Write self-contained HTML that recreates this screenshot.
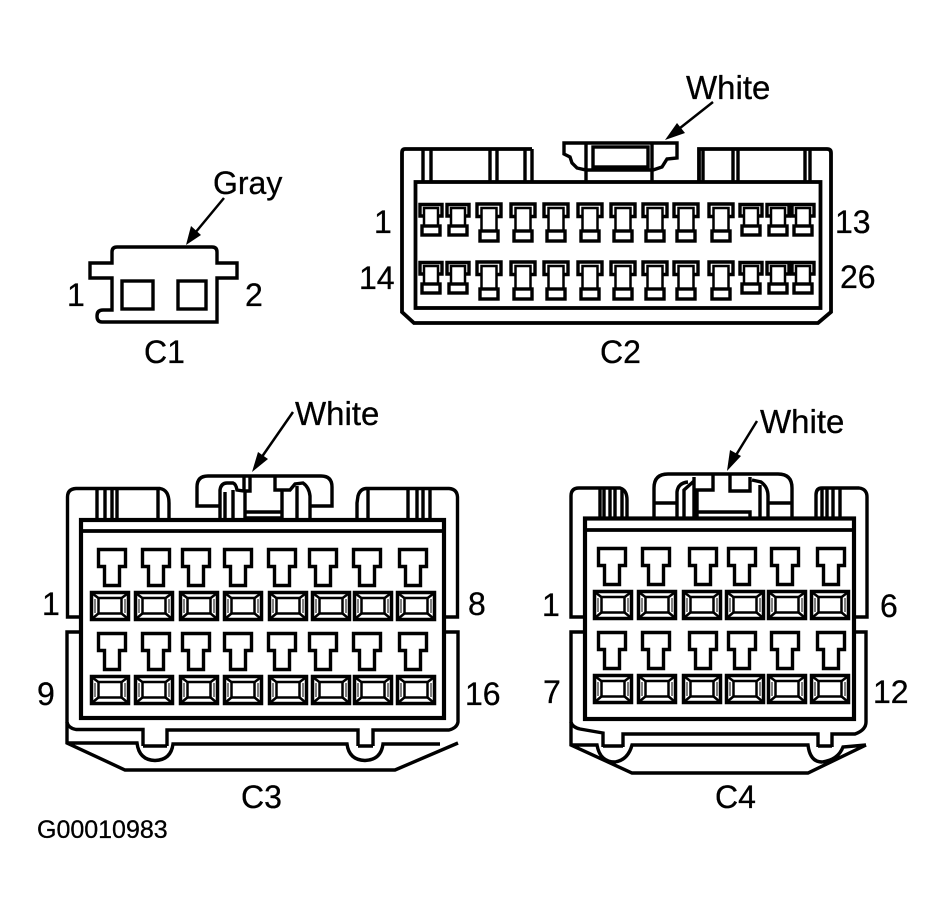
<!DOCTYPE html>
<html><head><meta charset="utf-8"><style>
html,body{margin:0;padding:0;background:#fff}
svg{display:block}
text{font-family:"Liberation Sans",Arial,sans-serif;font-size:32px;fill:#000;stroke:#000;stroke-width:.3}
.l{fill:none;stroke:#000;stroke-width:3.4;stroke-linejoin:miter}
.w{fill:#fff;stroke:#000;stroke-width:3.4}
.t{fill:none;stroke:#000;stroke-width:2.5}
</style></head><body>
<svg xmlns="http://www.w3.org/2000/svg" width="944" height="913" viewBox="0 0 944 913">
<defs>
<g id="s"><path class="l" d="M-6,216H-11V204.500H11V216H6"/><path class="t" d="M-7,226V208H7V226"/><rect class="w" x="-9" y="226" width="18" height="9"/></g>
<g id="b"><path class="l" d="M-7,216.500H-12V204H12V216.500H7"/><path class="t" d="M-7.500,231V208H7.500V231"/><rect class="w" x="-9" y="231" width="18" height="10"/></g>
<g id="T"><path class="w" d="M-13.500,0H13.500V17H7.500V36H-7.500V17H-13.500Z"/></g>
<g id="B"><rect x="1.500" y="1.500" width="37" height="27" fill="#fff" stroke="#000" stroke-width="3.500"/>
<path d="M3,3L9,7.500M37,3L31,7.500M3,27L9,22M37,27L31,22" stroke="#000" stroke-width="2.500"/>
<path d="M5,8V22M35,8V22" stroke="#000" stroke-width="1"/>
<rect x="8.500" y="7" width="23" height="15.500" fill="#fff" stroke="#000" stroke-width="2.500"/></g>
</defs>

<!-- C1 -->
<path class="l" d="M112,263V252Q112,247 117,247H212Q217,247 217,252V263H237V278H217V322H102Q97,322 97,316Q97,310 103,310H112V278H90V263Z"/>
<rect class="l" x="122" y="281" width="31" height="28"/>
<rect class="l" x="178" y="281" width="28" height="28"/>
<path d="M224,198L195,233" class="l" style="stroke-width:2.500"/><path d="M186,245L191,226L201,235Z"/>

<!-- C2 -->
<path class="l" d="M532,149H405Q402,149 402,153V312L414,323H818L831,312V153Q831,149 827,149H699V182" style="stroke-width:3.800"/>
<rect class="l" x="415.500" y="182" width="405" height="126" style="stroke-width:3.800"/>
<path class="l" d="M423,149V182M431,149V182M490,149V182M497,149V182M525,149V182M532,149V182M703,149V182M733,149V182M738,149V182M805,149V182M810,149V182"/>
<path class="l" d="M652,143H564V154L570,157L572,163L577,168L586,170H653L662,167L667,159L677,158V143H652M586,143V182M652,143V182"/>
<rect class="l" x="593" y="147" width="55" height="20"/>
<use href="#s" x="431"/><use href="#s" x="458"/><use href="#b" x="489"/><use href="#b" x="523"/><use href="#b" x="556"/><use href="#b" x="590"/><use href="#b" x="623"/><use href="#b" x="655"/><use href="#b" x="686"/><use href="#b" x="721"/><use href="#s" x="751"/><use href="#s" x="778"/><use href="#s" x="803"/>
<g transform="translate(0,58)"><use href="#s" x="431"/><use href="#s" x="458"/><use href="#b" x="489"/><use href="#b" x="523"/><use href="#b" x="556"/><use href="#b" x="590"/><use href="#b" x="623"/><use href="#b" x="655"/><use href="#b" x="686"/><use href="#b" x="721"/><use href="#s" x="751"/><use href="#s" x="778"/><use href="#s" x="803"/></g>
<path d="M713,102L675,132" class="l" style="stroke-width:2.500"/><path d="M665,140L677,123L685,133Z"/>

<!-- C3 -->
<path class="l" d="M80,617H67.500V497Q67.500,489 76,488.500H160Q169,490 169,503V520M357,520V503L358,496Q360,489 366,488.500H449Q457,489 457.500,497V617H444"/>
<path class="l" d="M80,632H67V722Q68,728 76,729.500H143V746M167,746V730H358V746M373,746V730H449Q457,728 458,722V632H444"/>
<path class="l" d="M67,722V743L125,770H395L458,743M67,743H137Q139,760 155,760.500Q171,760 173,744H347Q349,760 365,760.500Q381,760 383,744H440M143,746H167M358,746H373"/>
<path class="l" d="M97,488V520M105,488V520M112,488V520M117,488V520M158,488V520M368,488V520M408,488V520M417,488V520M423,488V520M430,488V520"/>
<rect class="l" x="81" y="520" width="363" height="198" style="stroke-width:4.200"/>
<path class="l" d="M81,531H444" style="stroke-width:3.800"/>
<path class="l" d="M220,506H197V487Q197,476 208,476H321Q332,476 332,487V506H310M220,520V490Q221,483 227,483H233Q236,484 237,490L244,491V476M250,476V491H245V518M245,512H282V490H290L295,484L303,483Q309,487 310,496V520M275,476V490H282M225,492V520M233,490V520M297,486V520M282,512V520M245,518H282" />
<path d="M293,412L259,461" class="l" style="stroke-width:2.500"/><path d="M252,472L258,452L268,459Z"/>
<g id="c3">
<use href="#T" x="112" y="549.500"/><use href="#T" x="156" y="549.500"/><use href="#T" x="196" y="549.500"/><use href="#T" x="238" y="549.500"/><use href="#T" x="282" y="549.500"/><use href="#T" x="323" y="549.500"/><use href="#T" x="367" y="549.500"/><use href="#T" x="413" y="549.500"/>
<use href="#B" x="90" y="591"/><use href="#B" x="134" y="591"/><use href="#B" x="179" y="591"/><use href="#B" x="223" y="591"/><use href="#B" x="268" y="591"/><use href="#B" x="311" y="591"/><use href="#B" x="353" y="591"/><use href="#B" x="396" y="591"/>
</g>
<use href="#c3" y="84"/>

<!-- C4 -->
<path class="l" d="M585,617H571V496Q571,488 579,488H620Q627,490 627,500V518M816,518V495Q816,488 822,488H859Q867,489 867,497V617H854"/>
<path class="l" d="M585,632H571V722Q572,727 580,729L603,733V747M623,747V734H818V747M832,747V734H855Q866,730 866,722V632H854"/>
<path class="l" d="M571,722V745L632,773H808L866,745M571,745H597Q600,762 615,762Q628,760 632,745H808Q810,762 822,762Q838,760 843,747L866,745M603,746H623M818,746H832"/>
<path class="l" d="M600,488V518M604,488V518M610,488V518M615,488V518M622,488V518M822,488V518M827,488V518M833,488V518M840,488V518"/>
<rect class="l" x="585" y="518.500" width="269" height="200.500" style="stroke-width:4.200"/>
<path class="l" d="M585,530H854" style="stroke-width:3.800"/>
<path class="l" d="M654,518V488Q654,474 668,474H778Q792,474 792,488V518M654,503H677M768,503H792M677,518V492Q678,483 688,482M684,518V490L694,481M694,477V518M713,474V490H697V518M697,512H750V518M730,474V491H750V477M752,480L761,482Q768,487 768,496V518M760,485V518"/>
<path d="M757,421L733,460" class="l" style="stroke-width:2.500"/><path d="M727,471L730,450L741,456Z"/>
<g id="c4">
<use href="#T" x="612" y="548.500"/><use href="#T" x="656" y="548.500"/><use href="#T" x="703" y="548.500"/><use href="#T" x="742" y="548.500"/><use href="#T" x="785" y="548.500"/><use href="#T" x="831" y="548.500"/>
<use href="#B" x="593" y="590"/><use href="#B" x="637" y="590"/><use href="#B" x="682" y="590"/><use href="#B" x="725" y="590"/><use href="#B" x="767" y="590"/><use href="#B" x="810" y="590"/>
</g>
<use href="#c4" y="84"/>

<!-- Labels -->
<text x="213" y="194">Gray</text>
<text x="686" y="99" style="font-size:33px">White</text>
<text x="295" y="425" style="font-size:33px">White</text>
<text x="760" y="433" style="font-size:33px">White</text>
<text x="67" y="306">1</text><text x="245" y="306">2</text><text x="144" y="363">C1</text>
<text x="374" y="233">1</text><text x="835" y="233">13</text><text x="359" y="289">14</text><text x="840" y="288">26</text><text x="600" y="363">C2</text>
<text x="42" y="615">1</text><text x="468" y="615">8</text><text x="37" y="705">9</text><text x="465" y="705">16</text><text x="241" y="808">C3</text>
<text x="542" y="616">1</text><text x="880" y="617">6</text><text x="543" y="703">7</text><text x="873" y="703">12</text><text x="715" y="808">C4</text>
<text x="37" y="838" style="font-size:25px">G00010983</text>
</svg>
</body></html>
